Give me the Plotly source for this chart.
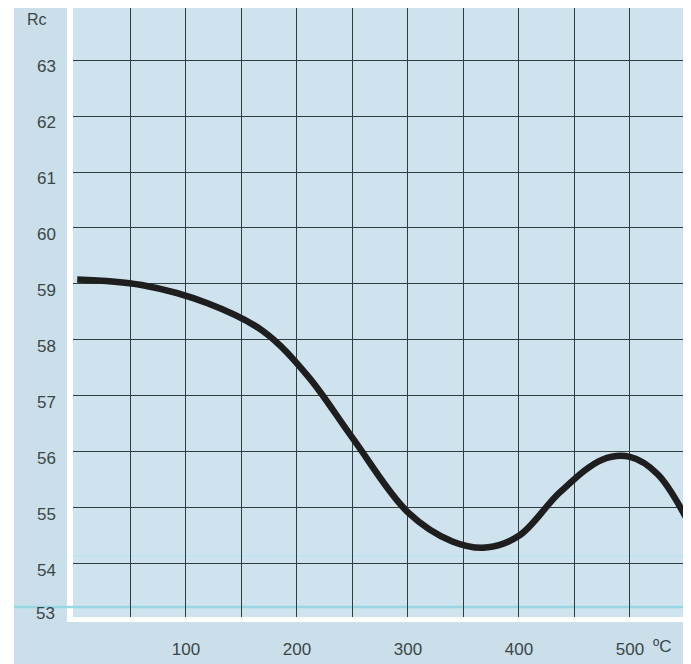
import plotly.graph_objects as go

# Data
temp_c = [2, 60, 120, 170, 210, 250, 300, 340, 370, 400, 437, 475, 500, 525, 556]
hardness_rc = [59.08, 58.98, 58.65, 58.15, 57.35, 56.25, 54.92, 54.4, 54.29, 54.5, 55.28, 55.86, 55.91, 55.6, 54.62]

x_tickvals = [100, 200, 300, 400, 500]
x_ticktext = ["100", "200", "300", "400", "500"]
x_grid = [50, 100, 150, 200, 250, 300, 350, 400, 450, 500]
y_tickvals = [54, 55, 56, 57, 58, 59, 60, 61, 62, 63]
y_bottom_label = "53"
y_unit = "Rc"
x_unit = "ºC"

BG = "#cfe3ee"
STRIP = "#cadfea"
GRID = "#2f3d3d"
TXT = "#3a4646"
FONT = "Liberation Sans, Arial, sans-serif"

# page has an 8px body margin; figure coords = page coords - 8
OFF = 8
W, H = 691 - OFF, 664 - OFF
PL, PR, PT, PB = 73 - OFF, 687 - OFF, 8 - OFF, 617 - OFF  # plot area in figure px

fig = go.Figure()

fig.add_trace(go.Scatter(
    x=temp_c, y=hardness_rc, mode="lines",
    line=dict(color="#1e1e1e", width=6.5, shape="spline", smoothing=1.0),
    hoverinfo="skip", showlegend=False, cliponaxis=True,
))
fig.add_trace(go.Scatter(x=[None], y=[None], xaxis="x2", showlegend=False, hoverinfo="skip"))

X_RANGE = [-1.8, 551.4]

fig.update_layout(
    width=W, height=H,
    margin=dict(l=PL, r=W - PR, t=PT, b=H - PB, pad=0),
    paper_bgcolor="white",
    plot_bgcolor=BG,
    showlegend=False,
    font=dict(family=FONT, color=TXT, size=17),
    xaxis=dict(
        range=X_RANGE,
        tickvals=x_tickvals, ticktext=x_ticktext,
        showgrid=False, zeroline=False, showline=False,
        ticks="", ticklabelstandoff=20,
        tickfont=dict(size=17, color=TXT),
        fixedrange=True,
    ),
    xaxis2=dict(
        range=X_RANGE, overlaying="x",
        tickvals=x_grid, showticklabels=False,
        showgrid=True, gridcolor=GRID, gridwidth=1.3,
        zeroline=False, showline=False, ticks="",
    ),
    yaxis=dict(
        range=[53.05, 63.93],
        tickvals=y_tickvals,
        showgrid=True, gridcolor=GRID, gridwidth=1.3,
        zeroline=False, showline=False,
        ticks="", ticklabelstandoff=16, ticklabelshift=6,
        tickfont=dict(size=17, color=TXT),
        fixedrange=True,
    ),
)

def px_x(px):
    return (px - OFF - PL) / float(PR - PL)

def px_y(py):
    return (PB - (py - OFF)) / float(PB - PT)

fig.add_shape(type="rect", xref="paper", yref="paper",
              x0=px_x(14), x1=px_x(67), y0=px_y(664), y1=px_y(8),
              fillcolor=STRIP, line=dict(width=0), layer="below")
fig.add_shape(type="rect", xref="paper", yref="paper",
              x0=px_x(14), x1=px_x(691), y0=px_y(664), y1=px_y(622),
              fillcolor=STRIP, line=dict(width=0), layer="below")
# scan artefact cyan lines near the bottom
fig.add_shape(type="line", xref="paper", yref="paper",
              x0=px_x(14), x1=px_x(687), y0=px_y(607), y1=px_y(607),
              line=dict(color="#97d6e4", width=2.5), layer="below")
fig.add_shape(type="line", xref="paper", yref="paper",
              x0=px_x(73), x1=px_x(687), y0=px_y(556), y1=px_y(556),
              line=dict(color="#bfe2ec", width=2), layer="below")

fig.add_annotation(xref="paper", yref="paper", x=px_x(57), y=px_y(613),
                   text=y_bottom_label, showarrow=False, xanchor="right", yanchor="middle",
                   font=dict(size=17, color=TXT))
fig.add_annotation(xref="paper", yref="paper", x=px_x(25), y=px_y(20),
                   text=y_unit, showarrow=False, xanchor="left", yanchor="middle",
                   font=dict(size=16, color=TXT))
fig.add_annotation(xref="paper", yref="paper", x=px_x(651), y=px_y(646),
                   text=x_unit, showarrow=False, xanchor="left", yanchor="middle",
                   font=dict(size=17, color=TXT))

fig.write_html("out.html")
